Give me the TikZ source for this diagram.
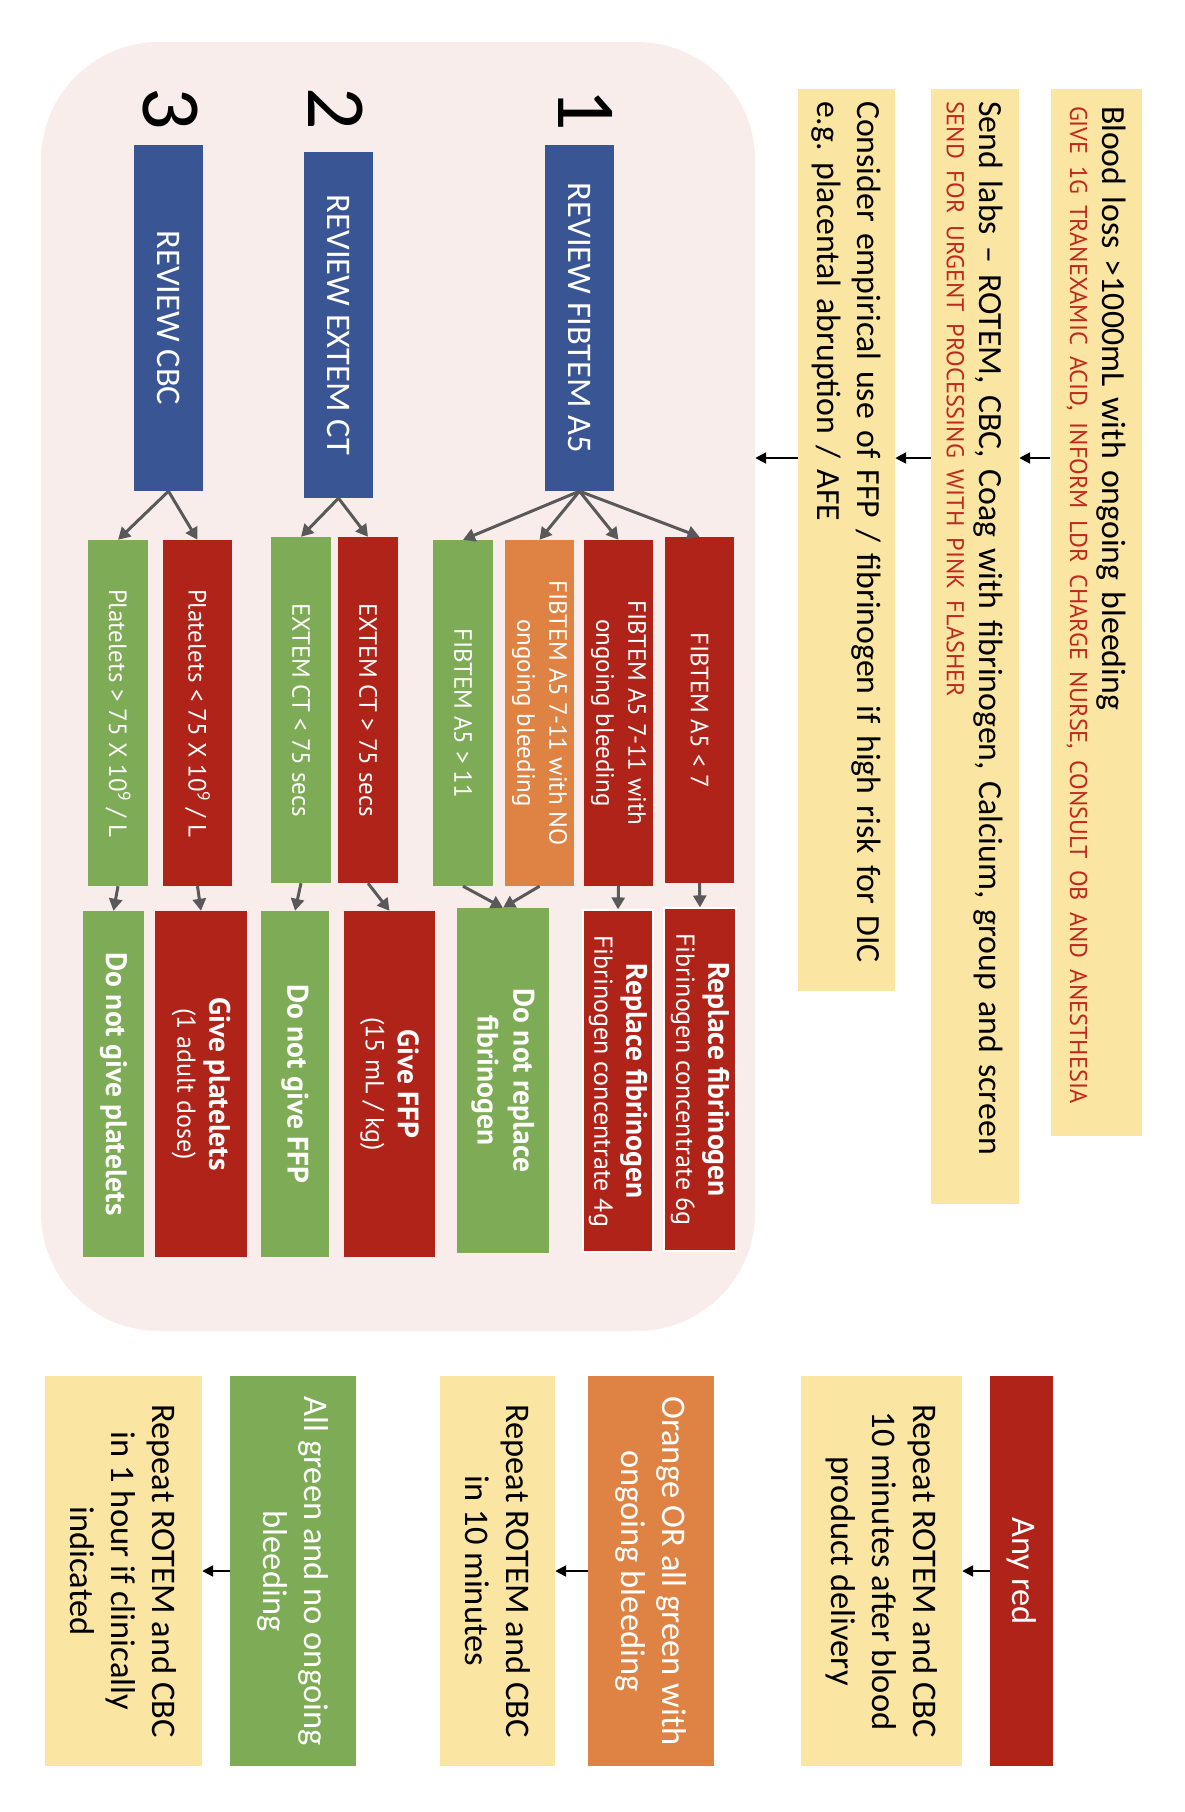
\documentclass[tikz,border=0pt]{standalone}
\usepackage{fontspec}
\setmainfont{Carlito}
\newfontfamily\ptsans{PT Sans}
\usetikzlibrary{arrows.meta}
\definecolor{cyel}{RGB}{250,229,163}
\definecolor{cred}{RGB}{175,35,25}
\definecolor{cgrn}{RGB}{126,171,85}
\definecolor{corg}{RGB}{223,131,68}
\definecolor{cblu}{RGB}{58,85,148}
\definecolor{cpnk}{RGB}{249,237,235}
\definecolor{ctxr}{RGB}{192,40,30}
\definecolor{carr}{RGB}{89,89,89}
\frenchspacing
\begin{document}
\begin{tikzpicture}[x=1pt,y=-1pt,
  wh/.style 2 args={minimum width=#2, minimum height=#1},
  vbox/.style={rotate=-90, inner sep=0pt, align=center},
  ybox/.style={vbox, fill=cyel, text=black},
  rbox/.style={vbox, fill=cred, text=white},
  gbox/.style={vbox, fill=cgrn, text=white},
  obox/.style={vbox, fill=corg, text=white},
  bbox/.style={vbox, fill=cblu, text=white, font=\fontsize{34.5}{40}\selectfont},
  topfont/.style={font=\fontsize{33.8}{40}\selectfont},
  botfont/.style={font=\fontsize{34.5}{41}\selectfont},
  condfont/.style={font=\ptsans\fontsize{25}{32}\selectfont},
  resfont/.style={font=\ptsans\fontsize{26}{32}\selectfont},
  numfont/.style={rotate=-90, inner sep=0pt, font=\fontsize{84}{90}\selectfont},
  blk/.style={draw=black, line width=2.2pt, -{Triangle[length=11pt,width=11pt]}},
  garr/.style={draw=carr, line width=3pt, -{Triangle[length=12pt,width=13pt]}}
]
\useasboundingbox (0,0) rectangle (1184,1812);
\newcommand{\rline}[1]{\mbox{\ptsans\fontsize{24.3}{40}\selectfont\color{ctxr}#1}}
\newcommand{\bl}[1]{{\bfseries\fontsize{29.5}{32}\selectfont #1}}

% background panel
\node[fill=cpnk, rounded corners=118pt, minimum width=714pt, minimum height=1289pt, inner sep=0pt] (panel) at (398,686.5) {};

% top boxes
\node[ybox, topfont, wh={91}{1047}, align=left, inner xsep=17pt, text width=1013pt] (b1) at (1096,612.5)
  {\mbox{Blood loss >1000mL with ongoing bleeding}\\[-8pt]\rline{GIVE 1G TRANEXAMIC ACID, INFORM LDR CHARGE NURSE, CONSULT OB AND ANESTHESIA}};
\node[ybox, topfont, wh={88}{1115}, align=left, inner xsep=12pt, text width=1091pt] (b2) at (975,646.5)
  {\mbox{Send labs – ROTEM, CBC, Coag with fibrinogen, Calcium, group and screen}\\[-7pt]\rline{SEND FOR URGENT PROCESSING WITH PINK FLASHER}};
\node[ybox, topfont, wh={97}{902}, align=left, inner xsep=12pt, text width=878pt] (b3) at (846.5,540)
  {\mbox{Consider empirical use of FFP / fibrinogen if high risk for DIC}\\\mbox{e.g. placental abruption / AFE}};

\coordinate (toprow) at (0,458);
\draw[blk] (b1.south |- toprow) -- (b2.north |- toprow);
\draw[blk] (b2.south |- toprow) -- (b3.north |- toprow);
\draw[blk] (b3.south |- toprow) -- (panel.east |- toprow);

% numbers
\node[numfont] (n1) at (586,110) {1};
\node[numfont] (n2) at (335.5,109) {2};
\node[numfont] (n3) at (170,109) {3};

% review boxes
\node[bbox, wh={69}{346}] (f0) at (579.5,318) {REVIEW FIBTEM A5};
\node[bbox, wh={69}{346}] (e0) at (338.5,325) {REVIEW EXTEM CT};
\node[bbox, wh={69}{346}] (c0) at (168.5,318) {REVIEW CBC};

% condition boxes
\node[rbox, condfont, wh={69}{346}] (f1) at (699.5,710) {FIBTEM A5 < 7};
\node[rbox, condfont, wh={69}{346}] (f2) at (618.5,713) {FIBTEM A5 7-11 with\\ongoing bleeding};
\node[obox, condfont, wh={69}{346}] (f3) at (539.5,713) {FIBTEM A5 7-11 with NO\\ongoing bleeding};
\node[gbox, condfont, wh={60}{346}] (f4) at (463,713) {FIBTEM A5 > 11};
\node[rbox, condfont, wh={60}{346}] (e1) at (368,710) {EXTEM CT > 75 secs};
\node[gbox, condfont, wh={60}{346}] (e2) at (301,710) {EXTEM CT < 75 secs};
\node[rbox, condfont, wh={69}{346}] (c1) at (197.5,713) {Platelets < 75 X 10\textsuperscript{9} / L};
\node[gbox, condfont, wh={60}{346}] (c2) at (118,713) {Platelets > 75 X 10\textsuperscript{9} / L};

% result boxes
\node[rbox, resfont, wh={72}{343}, draw=white, line width=1.2pt] (f5) at (700,1079.5) {\bl{Replace fibrinogen}\\Fibrinogen concentrate 6g};
\node[rbox, resfont, wh={70}{342}, draw=white, line width=1.2pt] (f6) at (618,1081) {\bl{Replace fibrinogen}\\Fibrinogen concentrate 4g};
\node[gbox, resfont, wh={92}{345}] (f7) at (503,1080.5) {\bl{Do not replace}\\[4pt]\bl{fibrinogen}};
\node[rbox, resfont, wh={91}{346}] (e3) at (389.5,1084) {\bl{Give FFP}\\(15 mL / kg)};
\node[gbox, resfont, wh={68}{346}] (e4) at (295,1084) {\bl{Do not give FFP}};
\node[rbox, resfont, wh={92}{346}] (c3) at (201,1084) {\bl{Give platelets}\\(1 adult dose)};
\node[gbox, resfont, wh={61}{346}] (c4) at (113.5,1084) {\bl{Do not give platelets}};

% connectors inside panel
\foreach \t in {f1,f2,f3,f4} \draw[garr] (f0.east) -- (\t.west);
\foreach \t in {e1,e2} \draw[garr] (e0.east) -- (\t.west);
\foreach \t in {c1,c2} \draw[garr] (c0.east) -- (\t.west);
\draw[garr] (f1.east) -- (f5.west);
\draw[garr] (f2.east) -- (f6.west);
\draw[garr] (f3.east) -- (f7.west);
\draw[garr] (f4.east) -- (f7.west);
\draw[garr] (e1.east) -- (e3.west);
\draw[garr] (e2.east) -- (e4.west);
\draw[garr] (c1.east) -- (c3.west);
\draw[garr] (c2.east) -- (c4.west);

% bottom row
\node[rbox, botfont, wh={63}{390}] (g1) at (1021.5,1571) {Any red};
\node[ybox, botfont, wh={161}{390}] (g2) at (881.5,1571) {Repeat ROTEM and CBC\\10 minutes after blood\\product delivery};
\node[obox, botfont, wh={126}{390}] (g3) at (651,1571) {Orange OR all green with\\ongoing bleeding};
\node[ybox, botfont, wh={115}{390}] (g4) at (497.5,1571) {Repeat ROTEM and CBC\\in 10 minutes};
\node[gbox, botfont, wh={126}{390}] (g5) at (293,1571) {All green and no ongoing\\bleeding};
\node[ybox, botfont, wh={157}{390}] (g6) at (123.5,1571) {Repeat ROTEM and CBC\\in 1 hour if clinically\\indicated};
\draw[blk] (g1.south) -- (g2.north);
\draw[blk] (g3.south) -- (g4.north);
\draw[blk] (g5.south) -- (g6.north);
\end{tikzpicture}
\end{document}
